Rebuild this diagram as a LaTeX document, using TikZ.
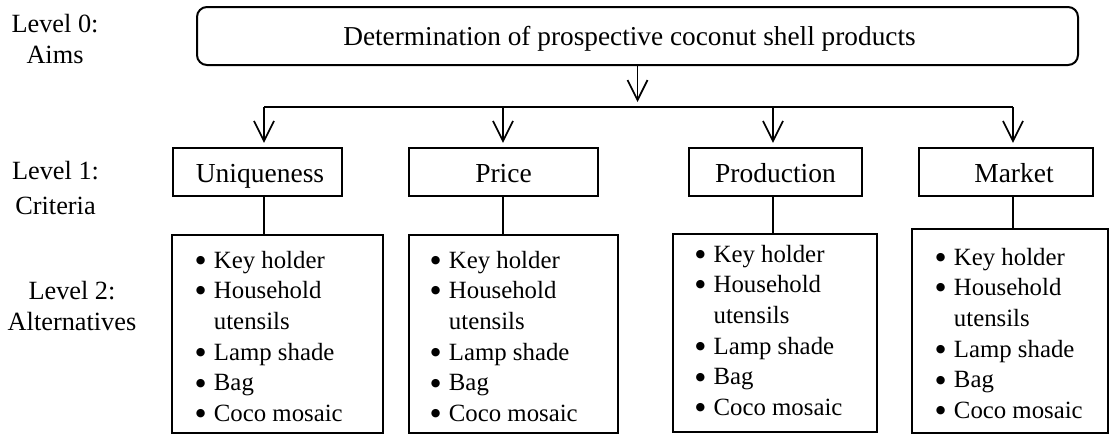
\documentclass[tikz,border=0pt]{standalone}
\usepackage{fontspec}
\setmainfont{Liberation Serif}
\newfontfamily\dejavu{DejaVu Sans}
\usetikzlibrary{arrows.meta,calc}
\newcommand{\bul}{\makebox[8.7pt][c]{\raisebox{4.8pt}{\dejavu\fontsize{11}{0}\selectfont ●}}}
\newcommand{\altitems}{\begin{tabular}[t]{@{}l@{\hspace{9pt}}l@{}}\bul & Key holder\\ \bul & Household\\ & utensils\\ \bul & Lamp shade\\ \bul & Bag\\ \bul & Coco mosaic\end{tabular}}
\begin{document}
\begin{tikzpicture}[x=1pt,y=-1pt,
  line width=1.3pt,
  aimbox/.style={draw, rounded corners=10pt, line width=2pt, minimum width=881pt, minimum height=58pt, inner sep=0pt, font=\fontsize{27.3}{32}\selectfont, text height=24pt, text depth=6pt},
  critbox/.style={draw, minimum height=48pt, inner sep=0pt, font=\fontsize{27.5}{32}\selectfont, text height=26pt, text depth=6pt},
  altbox/.style={draw, inner sep=0pt},
  alttext/.style={inner sep=0pt, anchor=base west, font=\fontsize{24.8}{30.7}\selectfont},
  lvl/.style={inner sep=0pt, anchor=base, font=\fontsize{26.3}{31}\selectfont},
  arr/.style={line width=1.7pt, -{Straight Barb[length=20pt,width=20pt]}},
  link/.style={line width=1.3pt}]
\useasboundingbox (0,0) rectangle (1110,434);

% level labels
\node[lvl] (l0) at (55,32) {\begin{tabular}[t]{@{}c@{}}Level 0:\\Aims\end{tabular}};
\node[lvl] (l1) at (55.5,179) {\begin{tabular}[t]{@{}c@{}}Level 1:\\[4pt]Criteria\end{tabular}};
\node[lvl] (l2) at (72,299.5) {\begin{tabular}[t]{@{}c@{}}Level 2:\\Alternatives\end{tabular}};

% aim
\node[aimbox] (aim) at (637.5,36) {\hspace*{-16pt}Determination of prospective coconut shell products};

% criteria
\node[critbox, minimum width=169pt] (c1) at (257.5,172) {Uniqueness\hspace*{-5pt}};
\node[critbox, minimum width=189pt] (c2) at (503.5,172) {Price};
\node[critbox, minimum width=173pt] (c3) at (775.5,172) {Production};
\node[critbox, minimum width=174pt] (c4) at (1006,172) {Market\hspace*{-16pt}};

% alternatives boxes
\node[altbox, minimum width=211pt, minimum height=198pt] (a1) at (277.5,334) {};
\node[altbox, minimum width=209pt, minimum height=198pt] (a2) at (513.5,334) {};
\node[altbox, minimum width=204pt, minimum height=198pt] (a3) at (775,333) {};
\node[altbox, minimum width=196pt, minimum height=204pt] (a4) at (1010,331) {};

\node[alttext] (t1) at (195.6,268) {\altitems};
\node[alttext] (t2) at (430.6,268) {\altitems};
\node[alttext] (t3) at (695.3,262) {\altitems};
\node[alttext] (t4) at (935.6,265) {\altitems};

% connectors
\coordinate (hub) at (637.5,102);
\draw[arr] (aim.south) -- (hub);
\coordinate (d1) at (264,107);
\coordinate (d2) at (503,107);
\coordinate (d3) at (773,107);
\coordinate (d4) at (1013,107);
\draw[link] (d1) -- (d4);
\foreach \i in {1,...,4} {
  \draw[arr] (d\i) -- ($(c\i.north -| d\i)+(0,-4.5)$);
  \draw[link] (c\i.south -| d\i) -- (a\i.north -| d\i);
}
\end{tikzpicture}
\end{document}
